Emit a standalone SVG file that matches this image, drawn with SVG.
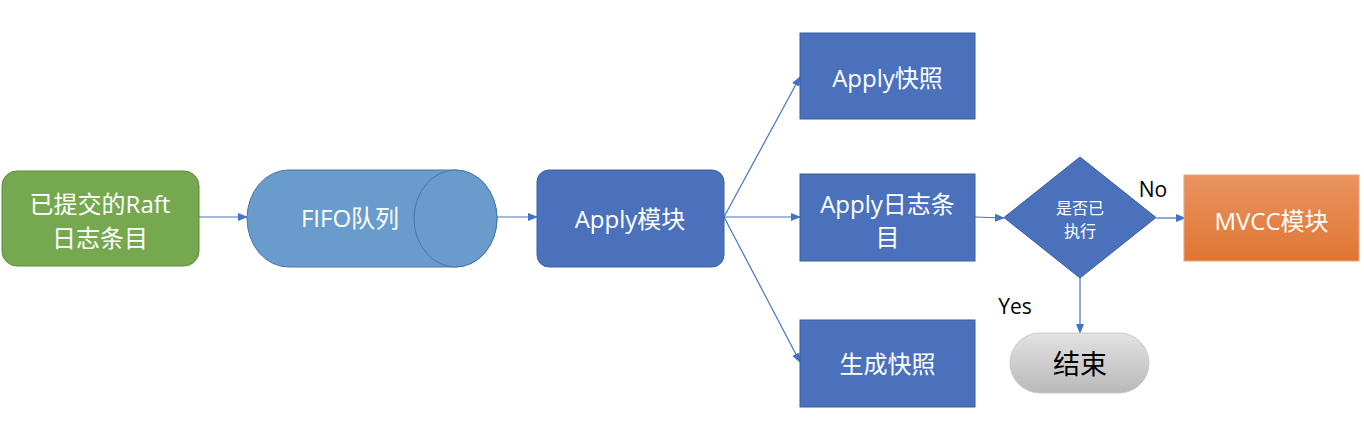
<svg xmlns="http://www.w3.org/2000/svg" width="1364" height="425" viewBox="0 0 1364 425">
<defs>
<marker id="arr" markerWidth="10" markerHeight="8" refX="9" refY="4" orient="auto" markerUnits="userSpaceOnUse">
<path d="M0,0 L10,4 L0,8 Z" fill="#4472C4"/>
</marker>
<linearGradient id="og" x1="0" y1="0" x2="0" y2="1">
<stop offset="0" stop-color="#E99461"/>
<stop offset="1" stop-color="#DF7633"/>
</linearGradient>
<linearGradient id="gg" x1="0" y1="0" x2="0" y2="1">
<stop offset="0" stop-color="#E3E3E3"/>
<stop offset="1" stop-color="#B9B9B9"/>
</linearGradient>
</defs>
<style>
text{font-family:"Open Sans","Noto Sans CJK SC",sans-serif;text-anchor:middle;dominant-baseline:central}
.w{fill:#ffffff}
.k{fill:#000000}
.blue{fill:#4B71BC;stroke:#3B5EA0;stroke-width:1}
.conn{stroke:#4472C4;stroke-width:1.2;fill:none;marker-end:url(#arr)}
</style>
<rect width="1364" height="425" fill="#ffffff"/>
<g id="connectors">
<line class="conn" x1="199" y1="217" x2="247" y2="217"/>
<line class="conn" x1="497" y1="217" x2="537" y2="217"/>
<line class="conn" x1="724" y1="217" x2="800" y2="77"/>
<line class="conn" x1="724" y1="217" x2="800" y2="217"/>
<line class="conn" x1="724" y1="217" x2="800" y2="362"/>
<line class="conn" x1="975" y1="217" x2="1004" y2="218"/>
<line class="conn" x1="1156" y1="218" x2="1185" y2="218"/>
<line class="conn" x1="1080" y1="278" x2="1080" y2="333"/>
</g>
<g id="raft">
<rect x="2" y="171" width="197" height="95" rx="15" fill="#76A84F" stroke="#5A8A3A" stroke-width="1"/>
<text class="w" x="100" y="203" font-size="24">已提交的Raft</text>
<text class="w" x="100" y="237" font-size="24">日志条目</text>
</g>
<g id="fifo">
<path d="M288.5,170 L455.5,170 A41.5,48.5 0 0 1 455.5,267 L288.5,267 A41.5,48.5 0 0 1 288.5,170 Z" fill="#6A9BCD" stroke="#4A76A8" stroke-width="1"/>
<ellipse cx="455.5" cy="218.5" rx="41.5" ry="48.5" fill="#6A9BCD" stroke="#4A76A8" stroke-width="1"/>
<text class="w" x="350" y="217" font-size="24">FIFO队列</text>
</g>
<g id="apply">
<rect class="blue" x="537" y="170" width="187" height="97" rx="12"/>
<text class="w" x="630" y="218" font-size="24">Apply模块</text>
</g>
<g id="applySnap">
<rect class="blue" x="800" y="33" width="175" height="86"/>
<text class="w" x="887.5" y="77" font-size="24">Apply快照</text>
</g>
<g id="applyLog">
<rect class="blue" x="800" y="174" width="175" height="87"/>
<text class="w" x="887.5" y="203" font-size="24">Apply日志条</text>
<text class="w" x="887.5" y="236" font-size="24">目</text>
</g>
<g id="genSnap">
<rect class="blue" x="800" y="320" width="175" height="87"/>
<text class="w" x="887.5" y="363" font-size="24">生成快照</text>
</g>
<g id="decision">
<path d="M1080,157 L1156,217.5 L1080,278 L1004,217.5 Z" class="blue"/>
<text class="w" x="1080" y="208" font-size="16">是否已</text>
<text class="w" x="1080" y="231" font-size="16">执行</text>
</g>
<g id="labels">
<text class="k" x="1153" y="189" font-size="21">No</text>
<text class="k" x="1015" y="306" font-size="21">Yes</text>
</g>
<g id="mvcc">
<rect x="1184" y="175" width="175" height="86" fill="url(#og)" stroke="#E8A57A" stroke-width="1"/>
<text class="w" x="1271.5" y="220" font-size="24">MVCC模块</text>
</g>
<g id="end">
<rect x="1010" y="333" width="139" height="60" rx="30" fill="url(#gg)" stroke="#C8C8C8" stroke-width="1"/>
<text class="k" x="1080" y="363" font-size="27">结束</text>
</g>
</svg>
